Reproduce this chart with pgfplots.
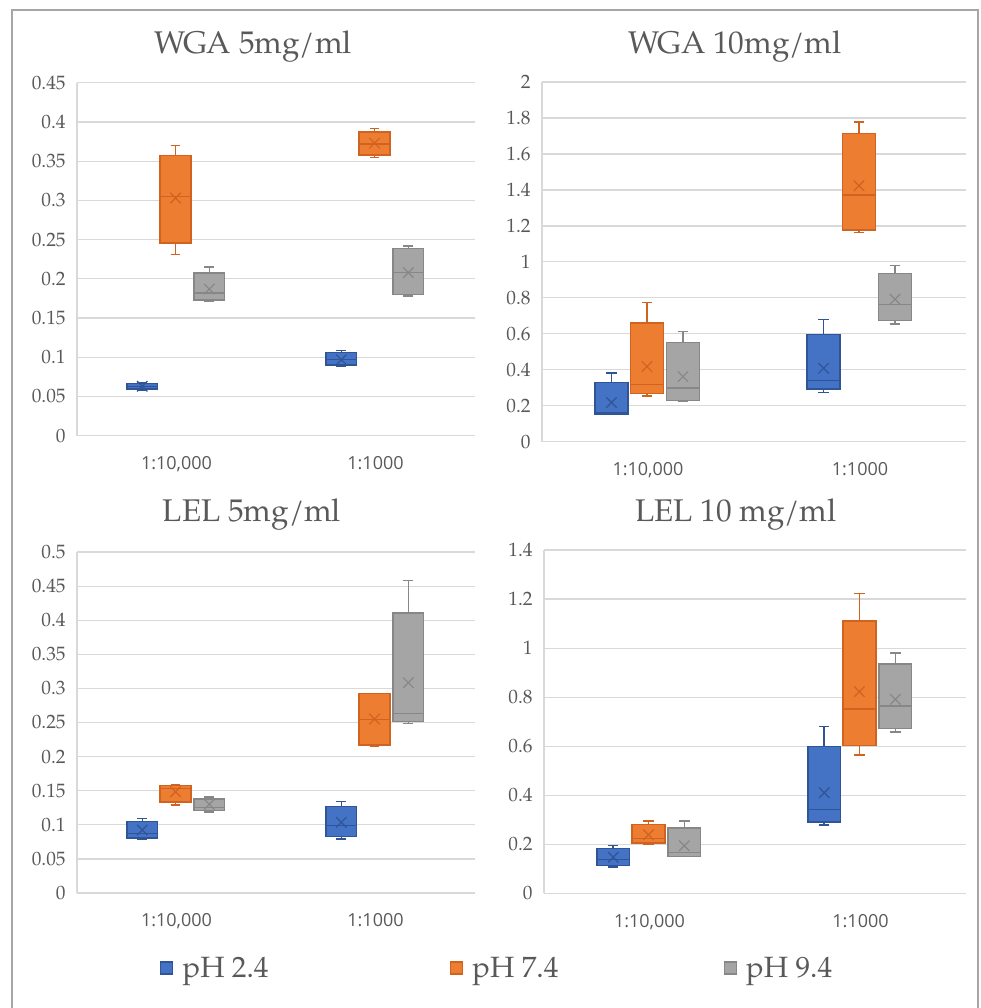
\documentclass[border=0pt]{standalone}
\usepackage{pgfplots}
\pgfplotsset{compat=1.18}
\usepgfplotslibrary{statistics}
\usepackage{fontspec}
\setmainfont{texgyrepagella}[Extension=.otf, UprightFont=*-regular, BoldFont=*-bold, ItalicFont=*-italic, BoldItalicFont=*-bolditalic]
\newfontfamily\xsans{Open Sans}
\definecolor{bFill}{HTML}{4472C4}
\definecolor{bEdge}{HTML}{2F5597}
\definecolor{oFill}{HTML}{ED7D31}
\definecolor{oEdge}{HTML}{D0631F}
\definecolor{gFill}{HTML}{A5A5A5}
\definecolor{gEdge}{HTML}{878787}
\definecolor{gridc}{HTML}{D9D9D9}
\definecolor{txt}{HTML}{595959}
\definecolor{frame}{HTML}{A6A6A6}
\pgfplotsset{
  sB/.style={draw=bEdge, fill=bFill, line width=1.1pt},
  sO/.style={draw=oEdge, fill=oFill, line width=1.1pt},
  sG/.style={draw=gEdge, fill=gFill, line width=1.1pt},
  panel/.style={scale only axis, anchor=south west, xmin=0, xmax=2, ymin=0,
    boxplot/draw direction=y,
    xtick={0.5,1.5}, xticklabels={{1:10,000},{1:1000}},
    axis x line*=bottom, axis y line*=left,
    axis line style={draw=gridc, line width=0.9pt, -},
    major tick length=0pt,
    ymajorgrids, grid style={draw=gridc, line width=0.9pt},
    xticklabel style={font=\xsans\fontsize{13.5}{15}\selectfont, text=txt, yshift=-12pt},
    yticklabel style={font=\fontsize{14.5}{17}\selectfont, text=txt, xshift=-5pt,
      /pgf/number format/fixed, /pgf/number format/precision=2},
    /pgf/number format/assume math mode=true,
    clip=false}
}
\newcommand{\bx}[8]{%
  \addplot[#1, boxplot prepared={draw position=#2, lower whisker=#3, lower quartile=#4,
    median=#5, upper quartile=#6, upper whisker=#7, box extend=0.155, whisker extend=0.05}]
    coordinates {};
  \addplot[#1, only marks, mark=x, mark size=5.5pt, mark options={solid, line width=0.9pt}]
    coordinates {(#2,#8)};
}
\begin{document}
\begin{tikzpicture}
\path[use as bounding box] (0,0) rectangle (735.75pt,-756pt);
\draw[color=frame, line width=1pt] (9pt,-756pt) -- (9pt,-7.5pt) -- (733.5pt,-7.5pt) -- (733.5pt,-756pt);

% WGA 5mg/ml
\begin{axis}[panel, at={(57.75pt,-326.8pt)}, width=298.5pt, height=264.75pt, ymax=0.45,
  ytick={0,0.05,0.1,0.15,0.2,0.25,0.3,0.35,0.4,0.45}]
\bx{sB}{0.328}{0.058}{0.0596}{0.063}{0.0668}{0.068}{0.063}
\bx{sO}{0.495}{0.231}{0.246}{0.305}{0.357}{0.370}{0.303}
\bx{sG}{0.665}{0.171}{0.173}{0.182}{0.2075}{0.215}{0.187}
\bx{sB}{1.328}{0.088}{0.090}{0.097}{0.106}{0.109}{0.097}
\bx{sO}{1.495}{0.355}{0.358}{0.372}{0.387}{0.392}{0.373}
\bx{sG}{1.665}{0.178}{0.180}{0.208}{0.2385}{0.2416}{0.208}
\end{axis}

% WGA 10mg/ml
\begin{axis}[panel, at={(406.5pt,-331.3pt)}, width=318pt, height=269.8pt, ymax=2,
  ytick={0,0.2,0.4,0.6,0.8,1,1.2,1.4,1.6,1.8,2}]
\bx{sB}{0.328}{0.150}{0.152}{0.160}{0.329}{0.382}{0.218}
\bx{sO}{0.495}{0.255}{0.269}{0.319}{0.660}{0.775}{0.418}
\bx{sG}{0.665}{0.223}{0.229}{0.299}{0.553}{0.614}{0.362}
\bx{sB}{1.328}{0.275}{0.292}{0.340}{0.595}{0.679}{0.408}
\bx{sO}{1.495}{1.162}{1.177}{1.371}{1.714}{1.778}{1.423}
\bx{sG}{1.665}{0.655}{0.673}{0.762}{0.936}{0.979}{0.792}
\end{axis}

% LEL 5mg/ml
\begin{axis}[panel, at={(57.75pt,-669.75pt)}, width=298.5pt, height=255.75pt, ymax=0.5,
  ytick={0,0.05,0.1,0.15,0.2,0.25,0.3,0.35,0.4,0.45,0.5},
  legend columns=3,
  legend image code/.code={\draw[#1, line width=0.8pt] (0pt,-4.5pt) rectangle (9pt,4.5pt);},
  legend style={at={(0.2085,-0.22)}, anchor=west, draw=none, fill=none, inner sep=0pt,
    font=\fontsize{22}{26}\selectfont, text=txt,
    /tikz/column 1/.style={column sep=5pt},
    /tikz/column 2/.style={column sep=134pt},
    /tikz/column 3/.style={column sep=5pt},
    /tikz/column 4/.style={column sep=122pt},
    /tikz/column 5/.style={column sep=5pt}}]
\addlegendimage{draw=bEdge, fill=bFill}\addlegendentry{pH 2.4}
\addlegendimage{draw=oEdge, fill=oFill}\addlegendentry{pH 7.4}
\addlegendimage{draw=gEdge, fill=gFill}\addlegendentry{pH 9.4}
\bx{sB}{0.328}{0.079}{0.0806}{0.0875}{0.105}{0.1095}{0.0924}
\bx{sO}{0.495}{0.129}{0.1334}{0.153}{0.158}{0.159}{0.1486}
\bx{sG}{0.665}{0.119}{0.1207}{0.125}{0.138}{0.1408}{0.130}
\bx{sB}{1.328}{0.079}{0.083}{0.0992}{0.1266}{0.134}{0.1036}
\bx{sO}{1.495}{0.2155}{0.217}{0.2546}{0.2928}{0.2928}{0.255}
\bx{sG}{1.665}{0.2483}{0.2512}{0.2634}{0.4106}{0.4585}{0.3084}
\end{axis}

% LEL 10 mg/ml
\begin{axis}[panel, at={(408pt,-670pt)}, width=316.5pt, height=257.5pt, ymax=1.4,
  ytick={0,0.2,0.4,0.6,0.8,1,1.2,1.4}]
\bx{sB}{0.328}{0.107}{0.114}{0.1387}{0.1835}{0.196}{0.147}
\bx{sO}{0.495}{0.201}{0.205}{0.224}{0.280}{0.295}{0.239}
\bx{sG}{0.665}{0.1496}{0.1496}{0.166}{0.2665}{0.295}{0.194}
\bx{sB}{1.328}{0.279}{0.291}{0.341}{0.598}{0.681}{0.410}
\bx{sO}{1.495}{0.564}{0.602}{0.752}{1.111}{1.222}{0.8226}
\bx{sG}{1.665}{0.658}{0.672}{0.763}{0.935}{0.980}{0.791}
\end{axis}

\node[anchor=base, text=txt, font=\fontsize{23.5}{28}\selectfont] at (189.75pt,-39.75pt) {WGA 5mg/ml};
\node[anchor=base, text=txt, font=\fontsize{23.5}{28}\selectfont] at (551.25pt,-39.75pt) {WGA 10mg/ml};
\node[anchor=base, text=txt, font=\fontsize{23.5}{28}\selectfont] at (189pt,-391.3pt) {LEL 5mg/ml};
\node[anchor=base, text=txt, font=\fontsize{23.5}{28}\selectfont] at (552pt,-391.3pt) {LEL 10 mg/ml};
\end{tikzpicture}
\end{document}
